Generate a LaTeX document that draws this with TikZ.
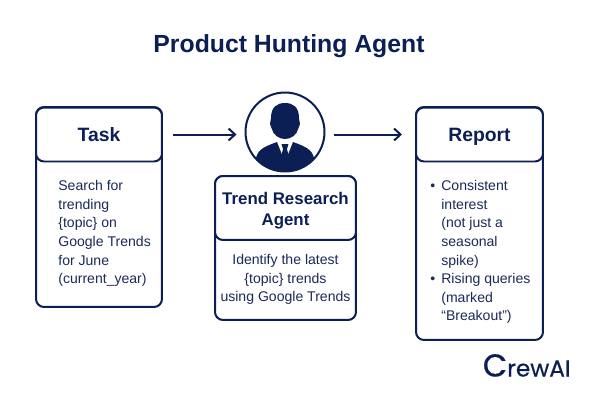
\documentclass[tikz,border=0pt]{standalone}
\usepackage{fontspec}
\usetikzlibrary{arrows.meta}
\setmainfont{Liberation Sans}
\newfontfamily\brandfont[FakeBold=0.5]{Poppins}
\definecolor{navy}{HTML}{0B1F54}
\definecolor{ink}{HTML}{1C2A58}
\tikzset{
cardhead/.style={draw=navy, line width=0.04cm, rounded corners=0.16cm, fill=white, text=navy, align=center, font=\bfseries\fontsize{11}{13.5}\selectfont},
cardbody/.style={draw=navy, line width=0.04cm, rounded corners=0.16cm, fill=white},
cardtext/.style={text=ink, inner sep=0pt, font=\fontsize{8}{10.6}\selectfont},
flow/.style={navy, line width=0.04cm, -{Straight Barb[length=0.13cm,width=0.24cm]}},
person/.pic={
  \begin{scope}
  \clip (0,0) circle [radius=0.78cm];
  \fill[navy] (-29,26) .. controls (-27,18) and (-22,15) .. (-8,10) -- (0,30) -- (8,10)
        .. controls (22,15) and (27,18) .. (29,26) -- (29,50) -- (-29,50) -- cycle;
  \end{scope}
  \fill[navy] (-14,-14) .. controls (-14,-25) and (-8,-29) .. (0,-29)
        .. controls (8,-29) and (14,-25) .. (14,-14) -- (15,-8) -- (13.5,-4)
        .. controls (12,3) and (6,7) .. (0,7)
        .. controls (-6,7) and (-12,3) .. (-13.5,-4) -- (-15,-8) -- cycle;
  \fill[navy] (-3.5,12) -- (3.5,12) -- (2,17) -- (4,25) -- (0,30) -- (-4,25) -- (-2,17) -- cycle;
  }
}
\begin{document}
\begin{tikzpicture}[x=0.02cm, y=-0.02cm]
\useasboundingbox[fill=white] (0,0) rectangle (600,400);
\node[text=navy, font=\bfseries\fontsize{14.1}{16}\selectfont] (title) at (289,46) {Product Hunting Agent};

\node[cardbody, minimum width=2.52cm, minimum height=4cm] (taskbody) at (99,207) {};
\node[cardhead, minimum width=2.52cm, minimum height=1.08cm, text height=0.28cm, text depth=0cm] (taskhead) at (99,134.5) {Task};
\node[cardtext, anchor=north west, align=left] (tasktext) at (58,180)
  {Search for\\ trending\\ \{topic\} on\\ Google Trends\\ for June\\ (current\_year)};

\pic at (285,132) {person};
\node[draw=navy, line width=0.04cm, circle, minimum size=1.58cm, inner sep=0pt] (agent) at (285,132) {};

\node[cardbody, minimum width=2.82cm, minimum height=2.88cm] (agentbody) at (285.5,248) {};
\node[cardhead, minimum width=2.82cm, minimum height=1.28cm] (agenthead) at (285.5,208) {};
\node[text=navy, align=center, inner sep=0pt, font=\bfseries\fontsize{9.6}{12}\selectfont] (agentname) at (285.5,211)
  {Trend Research\\ Agent};
\node[cardtext, anchor=north, align=center] (agenttext) at (285.5,254)
  {Identify the latest\\ \{topic\} trends\\ using Google Trends};

\node[cardbody, minimum width=2.54cm, minimum height=4.66cm] (reportbody) at (479.5,223.5) {};
\node[cardhead, minimum width=2.54cm, minimum height=1.08cm, text height=0.28cm, text depth=0cm] (reporthead) at (479.5,134.5) {Report};
\node[cardtext, anchor=north west, align=left] (reporttext) at (441,180)
  {\llap{\textbullet\hspace{0.12cm}}Consistent\\ interest\\ (not just a\\ seasonal\\ spike)\\
   \llap{\textbullet\hspace{0.12cm}}Rising queries\\ (marked\\ “Breakout”)};

\draw[flow, shorten <=0.2cm, shorten >=0.16cm] (taskhead) -- (agent.west |- taskhead);
\draw[flow, shorten <=0.18cm, shorten >=0.26cm] (agent.east |- reporthead) -- (reporthead);

\node[text=navy, anchor=base east, inner sep=0pt, font=\brandfont\fontsize{13.2}{16}\selectfont] (brand) at (571,376.5)
  {{\fontsize{18}{16}\selectfont C}rewAI};
\end{tikzpicture}
\end{document}
